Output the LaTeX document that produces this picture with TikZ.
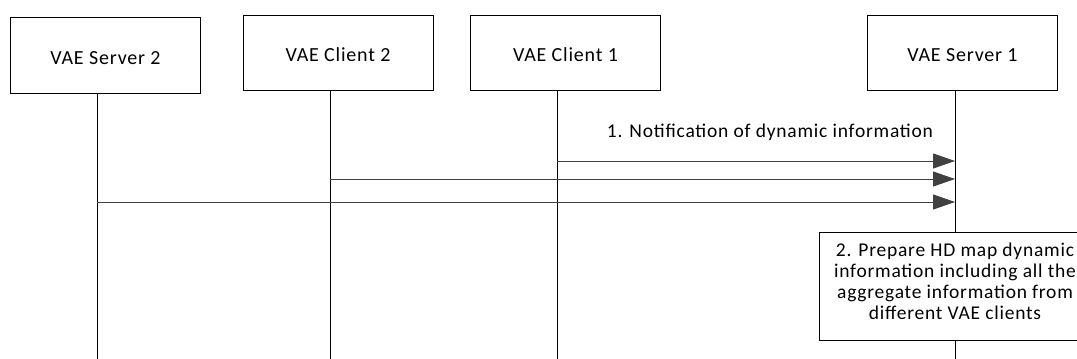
\documentclass[tikz,border=0pt]{standalone}
\usepackage{fontspec}
\setmainfont{Carlito}[LetterSpace=4]
\usetikzlibrary{arrows.meta}
\begin{document}
\begin{tikzpicture}[x=1pt,y=-1pt,
  actor/.style={draw=black, line width=1pt, minimum width=190pt, minimum height=76pt, inner sep=0pt, text height=18pt, text depth=0pt, font=\fontsize{20}{24}\selectfont},
  life/.style={draw=black, line width=1pt},
  msg/.style={draw=black!75, line width=1pt, -{Triangle[length=22pt,width=15pt]}},
  stepbox/.style={draw=black, line width=1pt, fill=white, minimum width=272pt, minimum height=107.7pt, inner sep=0pt},
  steptext/.style={align=center, inner sep=0pt, font=\fontsize{19.5}{18.6}\selectfont},
  lbl/.style={font=\fontsize{19.5}{22}\selectfont}
]
\useasboundingbox (0,0) rectangle (1077,359);
\clip (0,0) rectangle (1077,359);
% actors
\node[actor] (s2) at (105.5,55) {VAE Server 2};
\node[actor, minimum height=75pt] (c2) at (338,52.5) {VAE Client 2};
\node[actor, minimum height=75pt] (c1) at (565.5,52.5) {VAE Client 1};
\node[actor, minimum height=75pt] (s1) at (962.5,52.5) {VAE Server 1};
% lifeline ends
\coordinate (s2t) at (97,93);  \coordinate (s2b) at (97,360);
\coordinate (c2t) at (330,90); \coordinate (c2b) at (330,360);
\coordinate (c1t) at (557,90); \coordinate (c1b) at (557,360);
\coordinate (s1t) at (955,90); \coordinate (s1b) at (955,360);
\draw[life] (s2t) -- (s2b);
\draw[life] (c2t) -- (c2b);
\draw[life] (c1t) -- (c1b);
\draw[life] (s1t) -- (s1b);
% message points
\coordinate (m1a) at (557,161); \coordinate (m1b) at (955,161);
\coordinate (m2a) at (330,179); \coordinate (m2b) at (955,179);
\coordinate (m3a) at (97,202);  \coordinate (m3b) at (955,202);
\draw[msg] (m1a) -- node[lbl, midway, anchor=base, yshift=23.7pt, xshift=14pt] {1. Notification of dynamic information} (m1b);
\draw[msg] (m2a) -- (m2b);
\draw[msg] (m3a) -- (m3b);
% step 2
\node[stepbox] (p2) at (955,286.2) {};
\node[steptext, anchor=north] (p2t) at (955,242.8) {2. Prepare HD map dynamic\\[2.5pt]information including all the\\[2.5pt]aggregate information from\\[2.5pt]different VAE clients};
\end{tikzpicture}
\end{document}
